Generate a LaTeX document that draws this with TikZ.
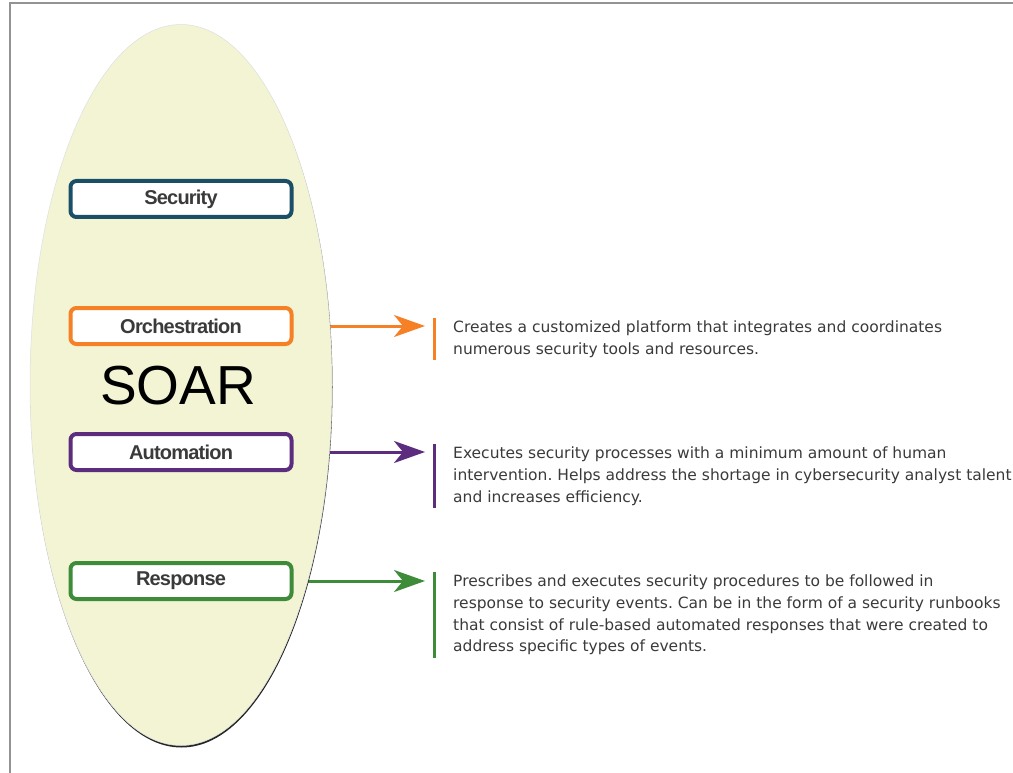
\documentclass[tikz,border=0pt]{standalone}
\usepackage{fontspec}
\setmainfont{Liberation Sans}
\newfontfamily\boxfont[LetterSpace=-4]{Liberation Sans}
\newfontfamily\descfont{DejaVu Sans}
\usetikzlibrary{arrows.meta}
\usetikzlibrary{shapes.geometric}
\definecolor{secblue}{HTML}{1B4F68}
\definecolor{orchorange}{HTML}{F58025}
\definecolor{autopurple}{HTML}{5C2D7E}
\definecolor{respgreen}{HTML}{3E8B3A}
\definecolor{soarfill}{HTML}{F2F4D3}
\definecolor{txtgray}{HTML}{3A3A3A}
\pgfdeclarelayer{back}
\pgfdeclarelayer{middle}
\pgfsetlayers{back,middle,main}
\frenchspacing
\tikzset{box/.style = {draw, line width=4pt, rounded corners=6pt, fill=white,
                       minimum width=221pt, minimum height=36pt, inner sep=0,
                       font=\boxfont\bfseries\fontsize{20}{24}\selectfont, text=txtgray}}
\tikzset{desc/.style = {anchor=west, align=left, inner xsep=19pt, inner ysep=2.5pt,
                        font=\descfont\fontsize{15.5}{21.8}\selectfont, text=txtgray}}
\tikzset{bar/.style = {line width=3pt}}
\tikzset{arr/.style = {line width=3pt, shorten >=9pt,
                       -{Stealth[length=31pt, width=22pt, inset=9pt]}}}

\begin{document}
\begin{tikzpicture}[x=1pt, y=-1pt]
      \useasboundingbox (0, 0) rectangle (1013, 773);
      \draw [gray!85, line width=2pt] (10, 773) -- (10, 3) -- (1013, 3);
      \node [box, draw=secblue] (sec) at (181, 199) {Security};
      \node [box, draw=orchorange] (orch) at (181, 326) {Orchestration};
      \node [box, draw=autopurple] (auto) at (181, 452) {Automation};
      \node [box, draw=respgreen] (resp) at (181, 581) {Response};
      \node [font=\fontsize{55}{60}\selectfont] (title) at (178, 386) {SOAR};
      \node [desc] (orchtxt) at (434, 339) {Creates a customized platform that integrates and coordinates\\numerous security tools and resources.};
      \node [desc] (autotxt) at (434, 476) {Executes security processes with a minimum amount of human\\intervention. Helps address the shortage in cybersecurity analyst talent\\and increases efficiency.};
      \node [desc] (resptxt) at (434, 615) {Prescribes and executes security procedures to be followed in\\response to security events. Can be in the form of a security runbooks\\that consist of rule-based automated responses that were created to\\address specific types of events.};
      \draw [bar, orchorange] (orchtxt.north west) -- (orchtxt.south west);
      \draw [bar, autopurple] (autotxt.north west) -- (autotxt.south west);
      \draw [bar, respgreen] (resptxt.north west) -- (resptxt.south west);
      \begin{pgfonlayer}{middle}
        \node [ellipse, fill=black!85, minimum width=302pt, minimum height=721pt] (soarshade) at (181.5, 387) {};
        \node [ellipse, fill=soarfill, draw=gray!25, line width=0.5pt, minimum width=302pt, minimum height=721pt] (soar) at (181, 385) {};
      \end{pgfonlayer}
      \begin{pgfonlayer}{back}
        \draw [arr, orchorange] (orch.east) -- (orch.east -| orchtxt.west);
        \draw [arr, autopurple] (auto.east) -- (auto.east -| autotxt.west);
        \draw [arr, respgreen] (resp.east) -- (resp.east -| resptxt.west);
      \end{pgfonlayer}
    \end{tikzpicture}
\end{document}
